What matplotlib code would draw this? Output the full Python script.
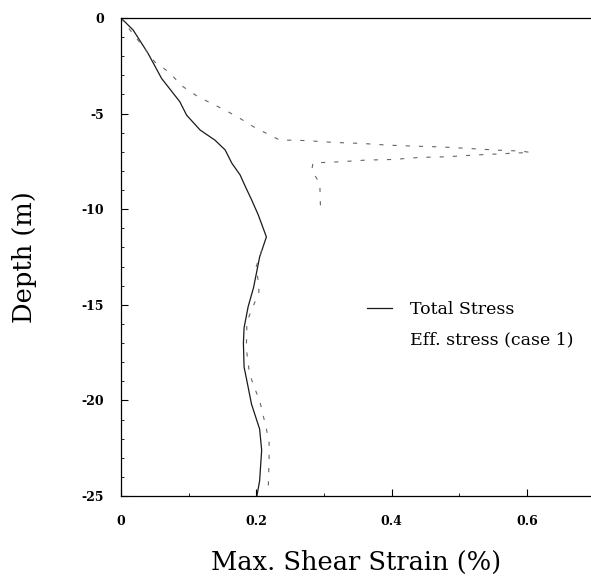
import numpy as np
import matplotlib
matplotlib.use("Agg")
import matplotlib.pyplot as plt
from matplotlib.ticker import MultipleLocator

# profile data (strain in %, depth in m)
total_strain = [0.0, 0.018, 0.040, 0.060, 0.087, 0.097, 0.117, 0.139, 0.154, 0.164,
                0.176, 0.185, 0.193, 0.203, 0.215, 0.205, 0.196, 0.188, 0.182, 0.181,
                0.182, 0.186, 0.193, 0.205, 0.208, 0.205, 0.201]
total_depth = [0.0, -0.63, -1.85, -3.16, -4.38, -5.08, -5.86, -6.39, -6.9, -7.6,
               -8.2, -8.9, -9.5, -10.3, -11.45, -12.5, -14.1, -15.1, -16.2, -17.0,
               -18.26, -18.95, -20.2, -21.5, -22.6, -24.2, -25.0]

eff_strain = [0.0, 0.016, 0.035, 0.050, 0.070, 0.092, 0.114, 0.154, 0.176, 0.196,
              0.235, 0.257, 0.277, 0.316, 0.356, 0.395, 0.432, 0.472, 0.513, 0.555,
              0.592, 0.605, 0.521, 0.481, 0.442, 0.402, 0.363, 0.324, 0.284, 0.282,
              0.294, 0.295, np.nan, 0.208, 0.200, 0.203, 0.204, 0.186, 0.186, 0.185,
              0.190, 0.198, 0.205, 0.215, 0.219, 0.219, 0.218, 0.218]
eff_depth = [0.0, -0.75, -1.6, -2.3, -2.81, -3.6, -4.12, -4.82, -5.25, -5.69,
             -6.39, -6.39, -6.42, -6.51, -6.56, -6.65, -6.70, -6.74, -6.82, -6.91,
             -6.96, -7.03, -7.17, -7.26, -7.29, -7.40, -7.43, -7.52, -7.58, -7.96,
             -8.66, -9.96, np.nan, -12.15, -13.0, -13.8, -14.33, -15.9, -16.7, -17.2,
             -18.6, -19.4, -20.0, -21.5, -22.2, -23.1, -24.2, -24.5]

plt.rcParams['font.family'] = ['DejaVu Serif']
plt.rcParams['lines.scale_dashes'] = False

fig = plt.figure(figsize=(5.91, 5.83), dpi=100)
ax = fig.add_axes([121 / 591, 87 / 583, 470 / 591, 478 / 583])

ax.plot(total_strain, total_depth, color='0.1', lw=0.9, label='Total Stress')
ax.plot(eff_strain, eff_depth, color='0.4', lw=0.8, dashes=(3, 6.5),
        label='Eff. stress (case 1)')

ax.set_xlim(0, 0.695)
ax.set_ylim(-25, 0)
ax.xaxis.set_minor_locator(MultipleLocator(0.1))
ax.yaxis.set_minor_locator(MultipleLocator(1))
ax.set_xticks([0, 0.2, 0.4, 0.6], ['0', '0.2', '0.4', '0.6'])
ax.set_yticks([0, -5, -10, -15, -20, -25], ['0', '-5', '-10', '-15', '-20', '-25'])
ax.tick_params(which='both', direction='in', labelsize=9)
ax.tick_params(which='major', length=5, width=0.8)
ax.tick_params(which='minor', length=2.5, width=0.6)
ax.tick_params(axis='y', pad=12)
ax.tick_params(axis='x', pad=14)
for lab in ax.get_xticklabels() + ax.get_yticklabels():
    lab.set_fontweight('bold')
ax.spines['right'].set_visible(False)
for s in ['left', 'bottom', 'top']:
    ax.spines[s].set_linewidth(0.9)

ax.set_xlabel('Max. Shear Strain (%)', fontsize=18.5)
ax.set_ylabel('Depth (m)', fontsize=18.5)
ax.xaxis.set_label_coords(0.5, -0.113)
ax.yaxis.set_label_coords(-0.179, 0.5)

leg = ax.legend(loc='upper left', bbox_to_anchor=(0.523, 0.408), frameon=False,
                borderaxespad=0, borderpad=0, fontsize=12.5, handlelength=1.44,
                handletextpad=1.04, labelspacing=0.75)
leg.legend_handles[1].set_visible(False)

fig.savefig('out.png', dpi=100)
